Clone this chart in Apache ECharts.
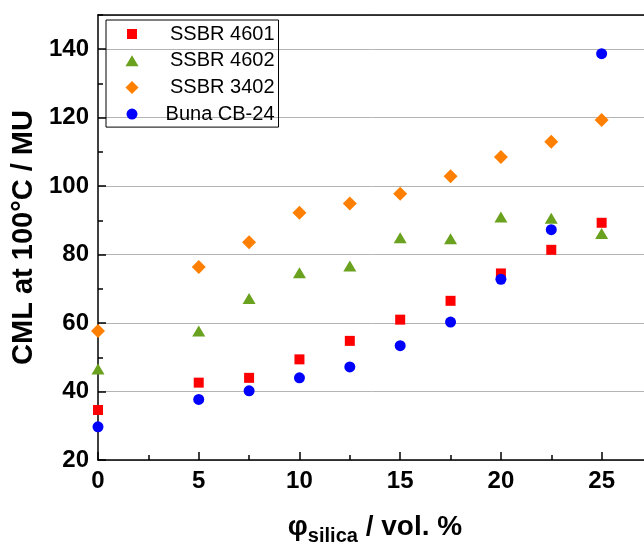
<!DOCTYPE html>
<html>
<head>
<meta charset="utf-8">
<script src="https://cdn.jsdelivr.net/npm/echarts@6/dist/echarts.min.js"></script>
<style>html,body{margin:0;padding:0;background:#fff}#c{width:644px;height:545px}</style>
</head>
<body>
<div id="c"></div>
<script>
var xValues = [0, 5, 7.5, 10, 12.5, 15, 17.5, 20, 22.5, 25];
var ssbr4601 = [34.6, 42.6, 44.0, 49.4, 54.8, 61.0, 66.5, 74.5, 81.4, 89.3];
var ssbr4602 = [46.6, 57.7, 67.2, 74.7, 76.7, 84.9, 84.6, 91.0, 90.6, 86.2];
var ssbr3402 = [57.7, 76.4, 83.6, 92.2, 94.9, 97.8, 102.9, 108.5, 113.0, 119.3];
var bunaCB24 = [29.7, 37.7, 40.2, 44.0, 47.2, 53.4, 60.3, 72.8, 87.3, 138.7];
var seriesNames = ['SSBR 4601', 'SSBR 4602', 'SSBR 3402', 'Buna CB-24'];

var FONT = 'Liberation Sans, Arial, sans-serif';
function pairs(ys) { return xValues.map(function (x, i) { return [x, ys[i]]; }); }

// legend icons (bounding box padded to 13x13 so each keeps its own size)
var PAD = 'M0 0h0.01v0.01h-0.01z M13 13h-0.01v-0.01h0.01z ';
var legendIcons = [
  'path://' + PAD + 'M1.5 1.5h10v10h-10z',
  'path://' + PAD + 'M6.5 1L13 12H0z',
  'path://M6.5 0L13 6.5L6.5 13L0 6.5z',
  'path://' + PAD + 'M1 6.5a5.5 5.5 0 1 0 11 0a5.5 5.5 0 1 0 -11 0z'
];

var chart = echarts.init(document.getElementById('c'), null, { renderer: 'canvas' });
var option = {
  backgroundColor: '#ffffff',
  animation: false,
  textStyle: { fontFamily: FONT },
  grid: { left: 98, top: 15, right: -8, bottom: 85, containLabel: false, outerBoundsMode: 'none' },
  legend: {
    orient: 'vertical', left: 106, top: 20,
    data: seriesNames.map(function (n, i) { return { name: n, icon: legendIcons[i] }; }),
    borderColor: '#000', borderWidth: 1, borderRadius: 0,
    padding: [4, 4, 3, 19.5],
    itemWidth: 13, itemHeight: 13, itemGap: 6.7,
    formatter: '{t|{name}}',
    textStyle: {
      fontFamily: FONT, fontSize: 20, color: '#000',
      rich: { t: { width: 131, align: 'right', fontSize: 20, lineHeight: 20, fontFamily: FONT } }
    }
  },
  xAxis: [
    {
      type: 'value', position: 'bottom', min: 0, max: 27.5, interval: 5,
      name: '{a|φ}{b|silica}{a| / vol. %}', nameLocation: 'middle', nameGap: 48,
      nameTextStyle: {
        fontFamily: FONT, fontSize: 28, fontWeight: 'bold', color: '#000',
        rich: {
          a: { fontFamily: FONT, fontSize: 28, fontWeight: 'bold', color: '#000' },
          b: { fontFamily: FONT, fontSize: 20, fontWeight: 'bold', color: '#000', padding: [18, 0, 0, 0] }
        }
      },
      axisLine: { onZero: false, lineStyle: { color: '#000', width: 1.5 } },
      axisTick: { inside: true, length: 8, lineStyle: { color: '#000', width: 1.5 } },
      axisLabel: { fontFamily: FONT, fontSize: 24, fontWeight: 'bold', color: '#000', margin: 9, showMaxLabel: false },
      splitLine: { show: false }
    },
    {
      type: 'value', position: 'bottom', min: 0, max: 27.5, interval: 2.5,
      axisLine: { show: false, onZero: false },
      axisTick: { inside: true, length: 5, lineStyle: { color: '#000', width: 1.5 } },
      axisLabel: { show: false },
      splitLine: { show: false }
    },
    {
      type: 'value', position: 'top', min: 0, max: 27.5, interval: 5,
      axisLine: { show: true, onZero: false, lineStyle: { color: '#000', width: 1.5 } },
      axisTick: { show: false },
      axisLabel: { show: false },
      splitLine: { show: false }
    }
  ],
  yAxis: [
    {
      type: 'value', position: 'left', min: 20, max: 150, interval: 20,
      name: 'CML at 100°C / MU', nameLocation: 'middle', nameGap: 58,
      nameTextStyle: { fontFamily: FONT, fontSize: 29, fontWeight: 'bold', color: '#000' },
      axisLine: { onZero: false, lineStyle: { color: '#000', width: 1.5 } },
      axisTick: { inside: true, length: 8, lineStyle: { color: '#000', width: 1.5 } },
      axisLabel: { fontFamily: FONT, fontSize: 24, fontWeight: 'bold', color: '#000', margin: 9, showMaxLabel: false },
      splitLine: { show: true, lineStyle: { color: '#b4b4b4', width: 1 } }
    },
    {
      type: 'value', position: 'left', min: 20, max: 150, interval: 10,
      axisLine: { show: false, onZero: false },
      axisTick: { inside: true, length: 5, lineStyle: { color: '#000', width: 1.5 } },
      axisLabel: { show: false },
      splitLine: { show: false }
    }
  ],
  series: [
    { name: seriesNames[0], type: 'scatter', symbol: 'rect', symbolSize: 10,
      itemStyle: { color: '#ff0000', opacity: 1 }, data: pairs(ssbr4601) },
    { name: seriesNames[1], type: 'scatter', symbol: 'triangle', symbolSize: [13, 11],
      itemStyle: { color: '#6aa11e', opacity: 1 }, data: pairs(ssbr4602) },
    { name: seriesNames[2], type: 'scatter', symbol: 'diamond', symbolSize: 14,
      itemStyle: { color: '#ff8000', opacity: 1 }, data: pairs(ssbr3402) },
    { name: seriesNames[3], type: 'scatter', symbol: 'circle', symbolSize: 11,
      itemStyle: { color: '#0000ff', opacity: 1 }, data: pairs(bunaCB24) }
  ]
};
chart.setOption(option);
</script>
</body>
</html>
